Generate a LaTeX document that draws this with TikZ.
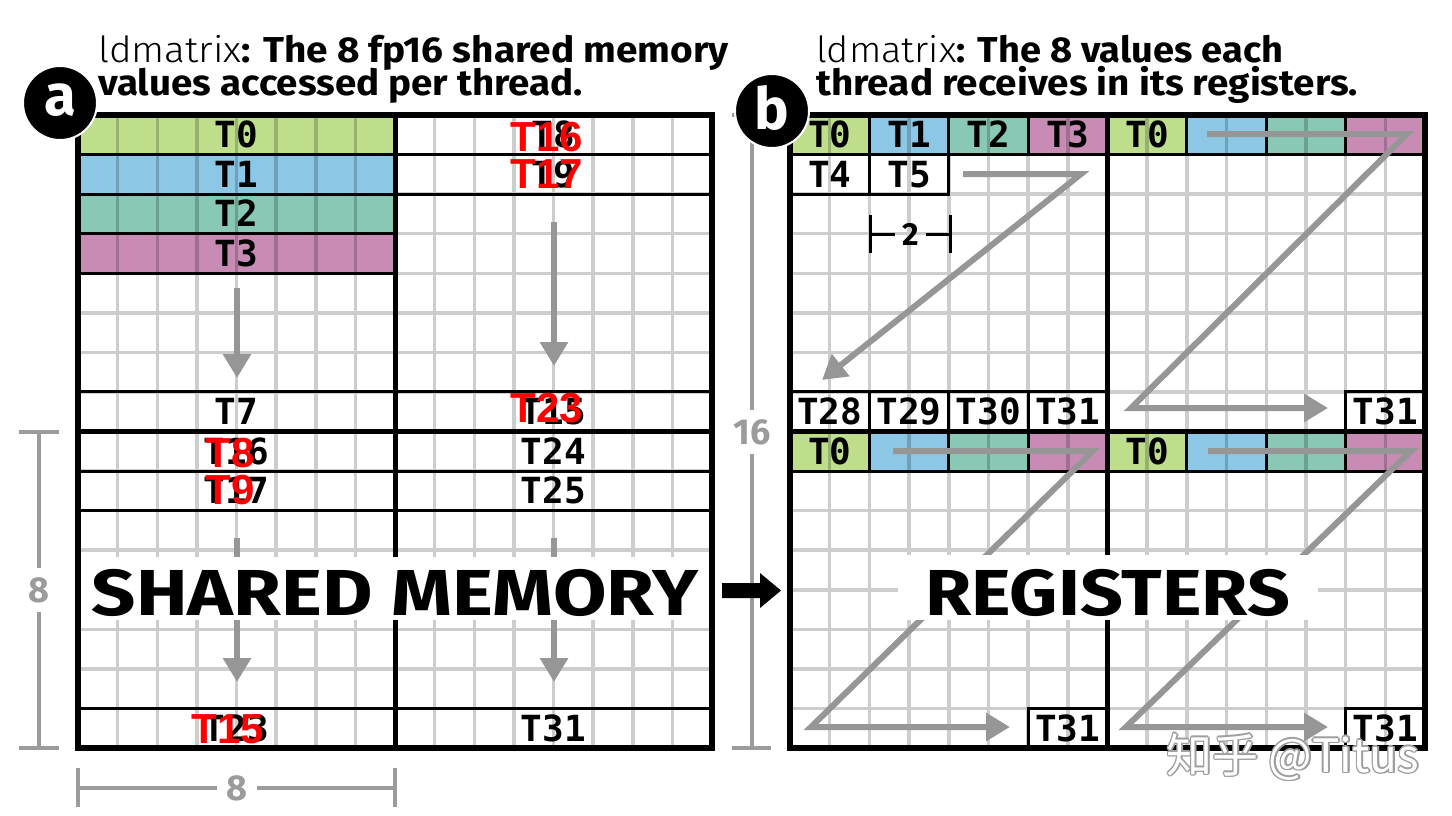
\documentclass[tikz,border=0pt]{standalone}
\usepackage{fontspec}
\usepackage{graphicx}
\usetikzlibrary{arrows.meta}
\setmainfont{Fira Sans}
\newfontfamily\monof{DejaVu Sans Mono}
\newfontfamily\redf{Liberation Sans}
\newfontfamily\cjkf{Noto Sans CJK SC}
\IfFontExistsTF{Fira Sans Light}{\newfontfamily\lightf{Fira Sans Light}}{\newfontfamily\lightf{Fira Sans}}
\definecolor{cgreen}{RGB}{190,222,140}
\definecolor{cblue}{RGB}{140,200,230}
\definecolor{cteal}{RGB}{138,200,182}
\definecolor{cpink}{RGB}{200,140,180}
\definecolor{gridgray}{RGB}{205,205,205}
\definecolor{arrowgray}{RGB}{150,150,150}
\definecolor{dimgray}{RGB}{155,155,155}
\newcommand\fitw[2]{\resizebox{#1}{\height}{#2}}
\tikzset{
  gridline/.style={line width=3.5pt, gridgray},
  cellbox/.style={draw=black, line width=3pt},
  midline/.style={draw=black, line width=5pt},
  outerbox/.style={draw=black, line width=6.5pt},
  lab/.style={font=\monof\bfseries\fontsize{36}{36}\selectfont, inner sep=0pt, text height=26pt, text depth=0pt, anchor=center},
  redlab/.style={font=\redf\bfseries\fontsize{42}{42}\selectfont, text=red, inner sep=0pt, text height=30pt, text depth=0pt, anchor=center},
  garrow/.style={draw=arrowgray, line width=6pt, line join=miter, -{Triangle[width=27pt,length=24pt]}},
  dimline/.style={draw=dimgray, line width=4pt},
  dimlab/.style={font=\bfseries\fontsize{36}{36}\selectfont, text=dimgray, inner sep=0pt, text height=25pt, text depth=0pt, anchor=center},
  title/.style={font=\fontsize{36}{36}\selectfont, inner sep=0pt, anchor=base west},
  bigword/.style={font=\bfseries\fontsize{65}{65}\selectfont, inner sep=0pt, anchor=base},
  badge/.style={circle, fill=black, draw=white, line width=2pt, minimum size=74pt, inner sep=0pt},
  badgetxt/.style={font=\bfseries\fontsize{58}{58}\selectfont, text=white, inner sep=0pt},
  wm/.style={font=\cjkf\fontsize{46}{46}\selectfont, inner sep=0pt, anchor=center}
}
\newcommand\wcell[3]{\fill[#1] (#2,#3) rectangle ++(8,1);
  \foreach \c in {1,...,7} {\draw[gridline,#1!80!black] (#2+\c,#3) -- ++(0,1);}}
\newcommand\ncell[3]{\fill[#1] (#2,#3) rectangle ++(2,1);
  \draw[gridline,#1!80!black] (#2+1,#3) -- ++(0,1);}
\begin{document}
\begin{tikzpicture}[x=1pt,y=-1pt]
\useasboundingbox (0,0) rectangle (1452,815);
\fill[white] (0,0) rectangle (1452,815);

% ---------- Panel A ----------
\begin{scope}[shift={(78,115)}, x=39.625pt, y=-39.5625pt]
  \foreach \i in {1,...,15} {\draw[gridline] (\i,0) -- (\i,16); \draw[gridline] (0,\i) -- (16,\i);}
  \wcell{cgreen}{0}{0} \wcell{cblue}{0}{1} \wcell{cteal}{0}{2} \wcell{cpink}{0}{3}
  \foreach \r in {0,1,2,3,7,8,9,15} {\draw[cellbox] (0,\r) rectangle ++(8,1);}
  \foreach \r in {0,1,7,8,9,15} {\draw[cellbox] (8,\r) rectangle ++(8,1);}
  \draw[midline] (8,0) -- (8,16);
  \draw[midline] (0,8) -- (16,8);
  \node[lab] (a0) at (4,0.5) {T0};
  \node[lab] (a1) at (4,1.5) {T1};
  \node[lab] (a2) at (4,2.5) {T2};
  \node[lab] (a3) at (4,3.5) {T3};
  \node[lab] (a7) at (4,7.5) {T7};
  \node[lab] (a16) at (4,8.5) {T16};
  \node[lab] (a17) at (4,9.5) {T17};
  \node[lab] (a23) at (4,15.5) {T23};
  \node[lab] (a8) at (12,0.5) {T8};
  \node[lab] (a9) at (12,1.5) {T9};
  \node[lab] (a15) at (12,7.5) {T15};
  \node[lab] (a24) at (12,8.5) {T24};
  \node[lab] (a25) at (12,9.5) {T25};
  \node[lab] (a31) at (12,15.5) {T31};
\end{scope}

% ---------- Panel B ----------
\begin{scope}[shift={(790,115)}, x=39.6875pt, y=-39.5625pt]
  \foreach \i in {1,...,15} {\draw[gridline] (\i,0) -- (\i,16); \draw[gridline] (0,\i) -- (16,\i);}
  \foreach \r in {0,8} {
    \ncell{cgreen}{0}{\r} \ncell{cblue}{2}{\r} \ncell{cteal}{4}{\r} \ncell{cpink}{6}{\r}
    \ncell{cgreen}{8}{\r} \ncell{cblue}{10}{\r} \ncell{cteal}{12}{\r} \ncell{cpink}{14}{\r}
    \foreach \c in {0,2,...,14} {\draw[cellbox] (\c,\r) rectangle ++(2,1);}
  }
  \draw[cellbox] (0,1) rectangle ++(2,1);
  \draw[cellbox] (2,1) rectangle ++(2,1);
  \foreach \c in {0,2,4,6,14} {\draw[cellbox] (\c,7) rectangle ++(2,1);}
  \foreach \c in {6,14} {\draw[cellbox] (\c,15) rectangle ++(2,1);}
  \draw[midline] (8,0) -- (8,16);
  \draw[midline] (0,8) -- (16,8);
  \node[lab] (b0) at (1,0.5) {T0};
  \node[lab] (b1) at (3,0.5) {T1};
  \node[lab] (b2) at (5,0.5) {T2};
  \node[lab] (b3) at (7,0.5) {T3};
  \node[lab] (b0r) at (9,0.5) {T0};
  \node[lab] (b4) at (1,1.5) {T4};
  \node[lab] (b5) at (3,1.5) {T5};
  \node[lab] (b28) at (1,7.5) {T28};
  \node[lab] (b29) at (3,7.5) {T29};
  \node[lab] (b30) at (5,7.5) {T30};
  \node[lab] (b31) at (7,7.5) {T31};
  \node[lab] (b31r) at (15,7.5) {T31};
  \node[lab] (b0bl) at (1,8.5) {T0};
  \node[lab] (b0br) at (9,8.5) {T0};
  \node[lab] (b31bl) at (7,15.5) {T31};
  \node[lab] (b31br) at (15,15.5) {T31};
\end{scope}

% ---------- gray flow arrows ----------
\coordinate (pa1) at (237,288); \coordinate (pa2) at (237,378);
\coordinate (pb1) at (554,222); \coordinate (pb2) at (554,366);
\coordinate (pc1) at (237,538); \coordinate (pc2) at (237,682);
\coordinate (pd1) at (554,538); \coordinate (pd2) at (554,682);
\draw[garrow] (pa1) -- (pa2);
\draw[garrow] (pb1) -- (pb2);
\draw[garrow] (pc1) -- (pc2);
\draw[garrow] (pd1) -- (pd2);

\coordinate (z1a) at (963,174); \coordinate (z1b) at (1081,174); \coordinate (z1c) at (822,380);
\draw[garrow] (z1a) -- (z1b) -- (z1c);
\coordinate (z2a) at (1207,134); \coordinate (z2b) at (1407,134); \coordinate (z2c) at (1131,408); \coordinate (z2d) at (1328,408);
\draw[garrow] (z2a) -- (z2b) -- (z2c) -- (z2d);
\coordinate (z3a) at (893,451); \coordinate (z3b) at (1093,451); \coordinate (z3c) at (811,727); \coordinate (z3d) at (1010,727);
\draw[garrow] (z3a) -- (z3b) -- (z3c) -- (z3d);
\coordinate (z4a) at (1208,451); \coordinate (z4b) at (1411,451); \coordinate (z4c) at (1126,727); \coordinate (z4d) at (1328,727);
\draw[garrow] (z4a) -- (z4b) -- (z4c) -- (z4d);

% ---------- big words ----------
\fill[white] (81,557) rectangle (709,620);
\node[bigword] (sm) at (395,615) {\fitw{606pt}{SHARED MEMORY}};
\fill[white] (898,555) rectangle (1318,620);
\node[bigword] (reg) at (1107.5,615) {\fitw{365pt}{REGISTERS}};

% ---------- outer borders ----------
\draw[outerbox] (78,115) rectangle (712,748);
\draw[outerbox] (790,115) rectangle (1425,748);

% ---------- red overlay labels ----------
\node[redlab] (r16) at (547,136) {T16};
\node[redlab] (r17) at (547,173.5) {T17};
\node[redlab] (r23) at (547,407.5) {T23};
\node[redlab] (r8) at (230,452) {T8};
\node[redlab] (r9) at (230,489) {T9};
\node[redlab] (r15) at (228,728) {T15};

% ---------- "2" width marker ----------
\coordinate (w2l) at (870,234); \coordinate (w2r) at (950,234);
\node[font=\bfseries\fontsize{32}{32}\selectfont, inner sep=0pt, text height=22pt, text depth=0pt, anchor=center] (w2) at (910.5,234) {2};
\draw[line width=3pt] (870,215) -- (870,253);
\draw[line width=3pt] (950,215) -- (950,253);
\draw[line width=3pt] (w2l) -- ([xshift=-7pt]w2.west);
\draw[line width=3pt] ([xshift=7pt]w2.east) -- (w2r);

% ---------- dimension markers ----------
\node[dimlab] (d8l) at (39,590) {8};
\draw[dimline] (19,432) -- (59,432);
\draw[dimline] (19,748) -- (59,748);
\draw[dimline] (39,432) -- ([yshift=9pt]d8l.north);
\draw[dimline] ([yshift=-9pt]d8l.south) -- (39,748);

\node[dimlab] (d8b) at (237,788) {8};
\draw[dimline] (78,768) -- (78,807);
\draw[dimline] (395,768) -- (395,807);
\draw[dimline] (78,788) -- ([xshift=-9pt]d8b.west);
\draw[dimline] ([xshift=9pt]d8b.east) -- (395,788);

\node[dimlab] (d16) at (752,432) {16};
\draw[dimline] (732,115) -- (771,115);
\draw[dimline] (732,748) -- (771,748);
\draw[dimline] (752,115) -- ([yshift=9pt]d16.north);
\draw[dimline] ([yshift=-9pt]d16.south) -- (752,748);

% ---------- black transfer arrow ----------
\fill[black] (722,583) -- (760,583) -- (760,573) -- (781,590.5) -- (760,608) -- (760,598) -- (722,598) -- cycle;

% ---------- titles ----------
\node[title] (tA1) at (98,62) {\fitw{631pt}{{\lightf ldmatrix}\textbf{: The 8 fp16 shared memory}}};
\node[title] (tA2) at (98,95) {\fitw{485pt}{\textbf{values accessed per thread.}}};
\node[title] (tB1) at (816,62) {\fitw{467pt}{{\lightf ldmatrix}\textbf{: The 8 values each}}};
\node[title] (tB2) at (816,95) {\fitw{542pt}{\textbf{thread receives in its registers.}}};

% ---------- badges ----------
\node[badge] (ca) at (60,103) {};
\node[badgetxt] (la) at (60,100) {a};
\node[badge] (cb) at (772,111) {};
\node[badgetxt] (lb) at (772,108) {b};

% ---------- watermark ----------
\foreach \dx/\dy [count=\k] in {-1.6/0,1.6/0,0/-1.6,0/1.6,-1.1/-1.1,1.1/1.1,-1.1/1.1,1.1/-1.1}
  {\node[wm, text=gray!75] (wm\k) at (1293+\dx,757+\dy) {知乎 @Titus};}
\node[wm, text=white] (wm) at (1293,757) {知乎 @Titus};
\end{tikzpicture}
\end{document}
